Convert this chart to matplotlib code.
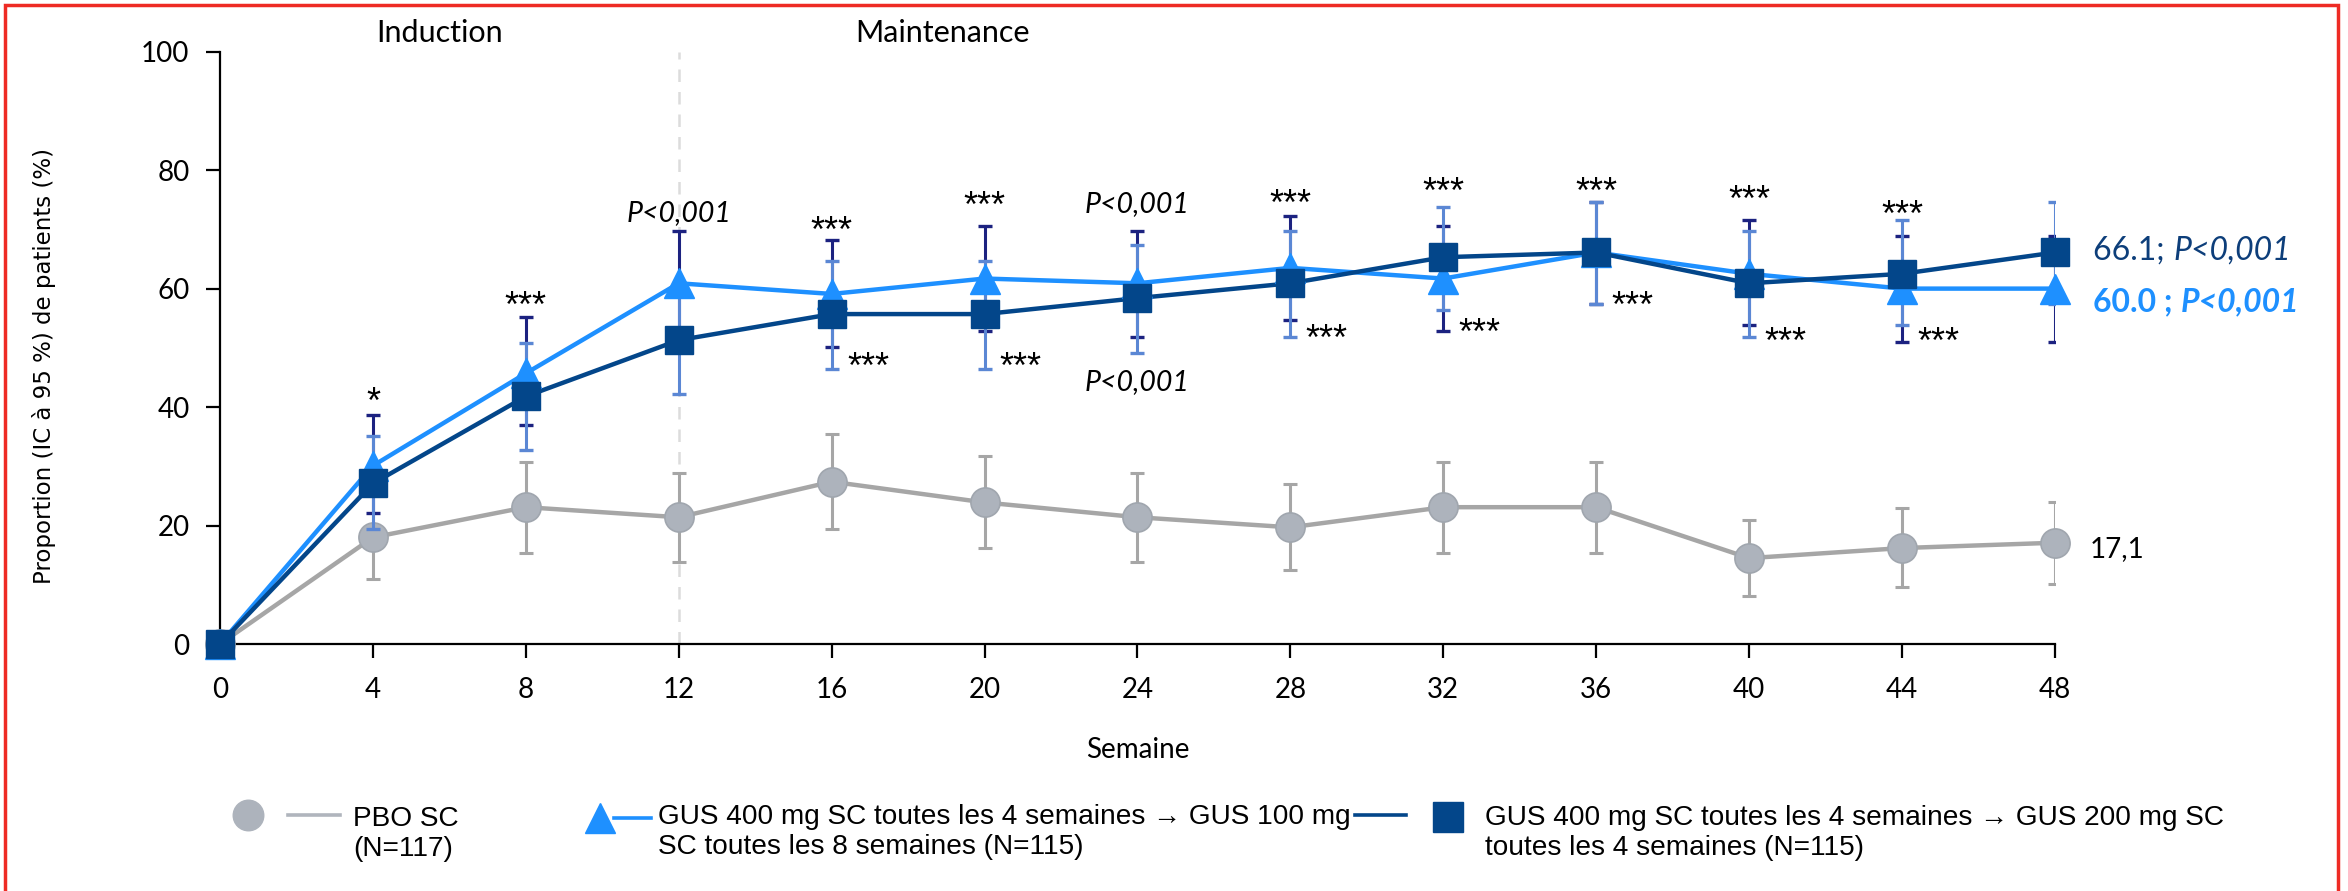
import numpy as np
import matplotlib
matplotlib.use("Agg")
from matplotlib import pyplot as plt
from matplotlib.lines import Line2D
from matplotlib.patches import Rectangle

## Données (proportion de patients, %, avec IC à 95 %)

semaines = [0, 4, 8, 12, 16, 20, 24, 28, 32, 36, 40, 44, 48]

pbo = np.array([0, 18.0, 23.1, 21.4, 27.4, 23.9, 21.4, 19.7, 23.1, 23.1, 14.5, 16.2, 17.1])
pbo_bas = np.array([0, 11.0, 15.3, 13.9, 19.4, 16.2, 13.9, 12.5, 15.4, 15.4, 8.1, 9.6, 10.2])
pbo_haut = np.array([0, 25.0, 30.7, 28.8, 35.4, 31.7, 28.8, 27.0, 30.7, 30.7, 20.9, 22.9, 23.9])

gus100 = np.array([0, 30.1, 45.7, 60.9, 59.1, 61.7, 60.9, 63.5, 61.7, 66.1, 62.5, 60.0, 60.0])
gus100_bas = np.array([0, 22.1, 37.0, 52.0, 50.1, 52.8, 51.9, 54.7, 52.8, 57.4, 53.8, 51.0, 51.0])
gus100_haut = np.array([0, 38.7, 55.2, 69.8, 68.2, 70.5, 69.8, 72.3, 70.5, 74.7, 71.5, 68.9, 68.9])

gus200 = np.array([0, 27.1, 41.8, 51.3, 55.7, 55.7, 58.4, 60.9, 65.3, 66.1, 60.9, 62.5, 66.1])
gus200_bas = np.array([0, 19.5, 32.8, 42.2, 46.5, 46.5, 49.2, 51.9, 56.4, 57.4, 51.9, 53.9, 57.4])
gus200_haut = np.array([0, 35.1, 50.8, 60.4, 64.7, 64.7, 67.3, 69.8, 73.8, 74.7, 69.8, 71.5, 74.7])

# significativité au-dessus (GUS 100 mg) et en dessous (GUS 200 mg)
sig_haut_sem = [4, 8, 12, 16, 20, 24, 28, 32, 36, 40, 44]
sig_haut_txt = ["*", "***", "P<0,001", "***", "***", "P<0,001", "***", "***", "***", "***", "***"]
sig_bas_sem = [16, 20, 24, 28, 32, 36, 40, 44]
sig_bas_txt = ["***", "***", "P<0,001", "***", "***", "***", "***", "***"]

# emplacement des textes
sig_haut_y = [42.4, 58.6, 72.8, 71.3, 75.5, 74.3, 75.8, 77.9, 77.9, 76.5, 73.9]
sig_bas_y = [48.3, 48.3, 44.3, 53.0, 54.1, 58.7, 52.6, 52.6]

## Couleurs

c_pbo = "#a6a6a6"
c_pbo_m = "#adb3bc"
c_100 = "#1e90ff"
c_200 = "#03468a"
c_err100 = "#1c2280"
c_err200 = "#5b87d4"

plt.rcParams['font.family'] = ['Lato', 'DejaVu Sans']

fig = plt.figure(figsize=(23.48, 8.91), dpi=100)
ax = fig.add_axes([0.0937, 0.2772, 0.7815, 0.6648])

ax.set_xlim(0, 48)
ax.set_ylim(0, 100)
ax.set_xticks(range(0, 49, 4))
ax.set_yticks(range(0, 101, 20))
for s in ['top', 'right']:
    ax.spines[s].set_visible(False)
for s in ['left', 'bottom']:
    ax.spines[s].set_linewidth(1.6)
ax.tick_params(length=10, width=1.6, labelsize=20)
ax.tick_params(axis='y', pad=12)
ax.tick_params(axis='x', pad=14)

# séparation induction / maintenance
ax.plot([12, 12], [0, 100], ls=(0, (5, 4)), color="#dcdcdc", lw=1.8, zorder=1)

## Placebo

ax.errorbar(semaines, pbo, yerr=[pbo - pbo_bas, pbo_haut - pbo], fmt='none',
            ecolor=c_pbo, elinewidth=2.2, capsize=5, capthick=2.2, zorder=2)
ax.plot(semaines, pbo, color=c_pbo, lw=3.2, marker='o', ms=21, mfc=c_pbo_m,
        mec="#a0a6ae", mew=1.2, zorder=3, clip_on=False)

## GUS (lignes, barres d'erreur puis marqueurs)

ax.plot(semaines, gus100, color=c_100, lw=3.2, zorder=4, clip_on=False)
ax.plot(semaines, gus200, color=c_200, lw=3.2, zorder=5, clip_on=False)

ax.errorbar(semaines, gus100, yerr=[gus100 - gus100_bas, gus100_haut - gus100], fmt='none',
            ecolor=c_err100, elinewidth=2.2, capsize=5, capthick=2.4, zorder=6)
ax.errorbar(semaines, gus200, yerr=[gus200 - gus200_bas, gus200_haut - gus200], fmt='none',
            ecolor=c_err200, elinewidth=2.2, capsize=5, capthick=2.4, zorder=7)

ax.plot(semaines, gus100, ls='none', marker='^', ms=21, mfc=c_100, mec=c_100,
        zorder=8, clip_on=False)
ax.plot(semaines, gus200, ls='none', marker='s', ms=20, mfc=c_200, mec=c_200,
        zorder=9, clip_on=False)

## Annotations

star_font = dict(fontsize=26, family=['Liberation Sans', 'DejaVu Sans'])

for x, y, t in zip(sig_haut_sem, sig_haut_y, sig_haut_txt):
    if t.startswith("P"):
        ax.text(x, y, t, ha='center', va='center', fontsize=20.5, style='italic')
    else:
        ax.text(x, y - 1.8, t, ha='center', va='center', **star_font)

for x, y, t in zip(sig_bas_sem, sig_bas_y, sig_bas_txt):
    if t.startswith("P"):
        ax.text(x, y, t, ha='center', va='center', fontsize=20.5, style='italic')
    else:
        ax.text(x + 0.4, y - 1.8, t, ha='left', va='center', **star_font)

ax.text(5.75, 103.2, "Induction", ha='center', va='center', fontsize=22)
ax.text(18.9, 103.2, "Maintenance", ha='center', va='center', fontsize=22)

# valeurs finales à droite
t1 = ax.text(49, 66.5, "66.1; ", color="#0d3e7a", fontsize=23, va='center', ha='left')
ax.annotate("P<0,001", xy=(1, 0.5), xycoords=t1, va='center', ha='left',
            color="#0d3e7a", fontsize=23, style='italic')
t2 = ax.text(49, 57.8, "60.0 ; ", color=c_100, fontsize=23, fontweight='bold',
             va='center', ha='left')
ax.annotate("P<0,001", xy=(1, 0.5), xycoords=t2, va='center', ha='left',
            color=c_100, fontsize=23, fontweight='bold', style='italic')
ax.text(48.9, 16.0, "17,1", fontsize=20, va='center', ha='left')

## Titres des axes

ax.set_xlabel("Semaine", fontsize=20)
ax.xaxis.set_label_coords(0.5, -0.179)
ax.xaxis.label.set_va('center')
ax.set_ylabel("Proportion (IC à 95 %) de patients (%)", fontsize=16.5,
              family=['DejaVu Sans'])
ax.yaxis.set_label_coords(-0.096, 0.47)
ax.yaxis.label.set_va('center')

## Légende (coordonnées en pixels de la figure)

W, H = 2348, 891
def fx(px):
    return px / W
def fy(py):
    return 1 - py / H

leg_font = dict(fontsize=20.2, family=['Liberation Sans', 'DejaVu Sans'],
                va='center', ha='left', linespacing=1.2)

fig.add_artist(Line2D([fx(248)], [fy(815)], marker='o', ms=22, mfc=c_pbo_m,
                      mec=c_pbo_m, ls='none'))
fig.add_artist(Line2D([fx(288), fx(340)], [fy(815), fy(815)], color="#b0b5bd", lw=2.6))
fig.text(fx(353), fy(834), "PBO SC\n(N=117)", **leg_font)

fig.add_artist(Line2D([fx(600)], [fy(818)], marker='^', ms=21, mfc=c_100,
                      mec=c_100, ls='none'))
fig.add_artist(Line2D([fx(614), fx(651)], [fy(818), fy(818)], color=c_100, lw=2.6))
fig.text(fx(658), fy(832), "GUS 400 mg SC toutes les 4 semaines \u2192 GUS 100 mg\n"
         "SC toutes les 8 semaines (N=115)", **leg_font)
fig.add_artist(Line2D([fx(1355), fx(1406)], [fy(815), fy(815)], color=c_200, lw=2.6))

fig.add_artist(Line2D([fx(1448)], [fy(817)], marker='s', ms=22, mfc=c_200,
                      mec=c_200, ls='none'))
fig.text(fx(1485), fy(833), "GUS 400 mg SC toutes les 4 semaines \u2192 GUS 200 mg SC\n"
         "toutes les 4 semaines (N=115)", **leg_font)

## Cadre

fig.add_artist(Rectangle((fx(5), -0.05), fx(2338) - fx(5), fy(5) + 0.05, fill=False,
                         ec="#ee2b24", lw=2.5, transform=fig.transFigure))

plt.savefig("out.png", dpi=100)
